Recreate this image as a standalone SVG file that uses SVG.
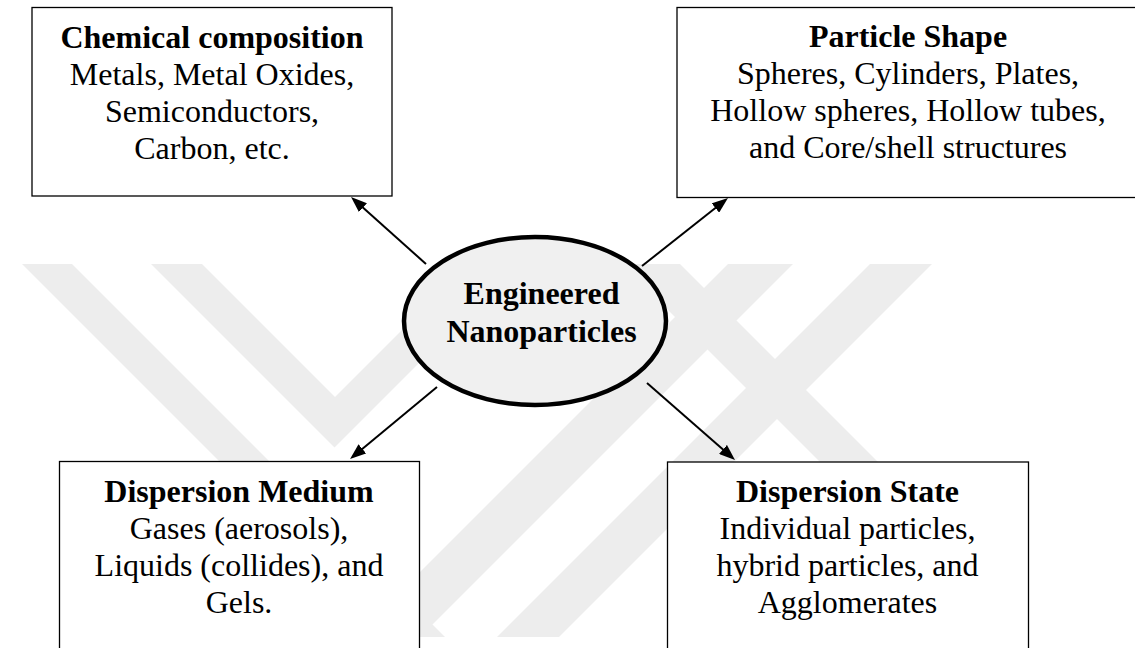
<svg xmlns="http://www.w3.org/2000/svg" width="1135" height="648" viewBox="0 0 1135 648">
  <style>
    .wm { fill: #ededed; stroke: none; }
    .box { fill: #ffffff; stroke: #000000; stroke-width: 1.3; }
    .hub { fill: #f0f0f0; stroke: #000000; stroke-width: 4.5; }
    .t { font-family: "Liberation Serif", "Times New Roman", serif; font-size: 32px; fill: #000000; text-anchor: middle; }
    .b { font-weight: bold; }
    .conn { stroke: #000000; stroke-width: 2; fill: none; marker-end: url(#arrow); }
  </style>
  <defs>
    <marker id="arrow" markerUnits="userSpaceOnUse" markerWidth="16" markerHeight="12" refX="8" refY="6" orient="auto">
      <path d="M0,0 L16,6 L0,12 z" fill="#000000"/>
    </marker>
  </defs>
  <rect x="0" y="0" width="1135" height="648" fill="#ffffff"/>

  <g id="watermark">
    <polygon class="wm" points="22,264 72,264 445,637 395,637"/>
    <polygon class="wm" points="151,264 202,264 335,397 468,264 518,264 334.5,447.5"/>
    <polygon class="wm" points="870,264 932,264 559,637 497,637"/>
    <polygon class="wm" points="622,264 680,264 1016,600 958,600"/>
    <polygon class="wm" points="728,264 793,264 420,637 355,637"/>
  </g>

  <g id="connectors">
    <line class="conn" x1="426" y1="264" x2="357" y2="202.3"/>
    <line class="conn" x1="642" y1="266" x2="721.7" y2="203"/>
    <line class="conn" x1="437" y1="387" x2="356.2" y2="453.9"/>
    <line class="conn" x1="647" y1="383" x2="729" y2="454.7"/>
  </g>

  <g id="node-chemical">
    <rect class="box" x="32" y="7.5" width="360" height="188.5"/>
    <text class="t b" x="212" y="47.5">Chemical composition</text>
    <text class="t" x="212" y="84.5">Metals, Metal Oxides,</text>
    <text class="t" x="212" y="121.5">Semiconductors,</text>
    <text class="t" x="212" y="158.5">Carbon, etc.</text>
  </g>

  <g id="node-shape">
    <rect class="box" x="677" y="7.5" width="470" height="190"/>
    <text class="t b" x="908" y="47">Particle Shape</text>
    <text class="t" x="908" y="84">Spheres, Cylinders, Plates,</text>
    <text class="t" x="908" y="121">Hollow spheres, Hollow tubes,</text>
    <text class="t" x="908" y="158">and Core/shell structures</text>
  </g>

  <g id="node-center">
    <ellipse class="hub" cx="535" cy="321" rx="131" ry="84"/>
    <text class="t b" x="541.5" y="304">Engineered</text>
    <text class="t b" x="541.5" y="342">Nanoparticles</text>
  </g>

  <g id="node-medium">
    <rect class="box" x="59.5" y="461.5" width="360" height="200"/>
    <text class="t b" x="239" y="502">Dispersion Medium</text>
    <text class="t" x="239" y="539">Gases (aerosols),</text>
    <text class="t" x="239" y="576">Liquids (collides), and</text>
    <text class="t" x="239" y="613">Gels.</text>
  </g>

  <g id="node-state">
    <rect class="box" x="667.5" y="462" width="361" height="200"/>
    <text class="t b" x="847.5" y="502">Dispersion State</text>
    <text class="t" x="847.5" y="539">Individual particles,</text>
    <text class="t" x="847.5" y="576">hybrid particles, and</text>
    <text class="t" x="847.5" y="613">Agglomerates</text>
  </g>
</svg>
